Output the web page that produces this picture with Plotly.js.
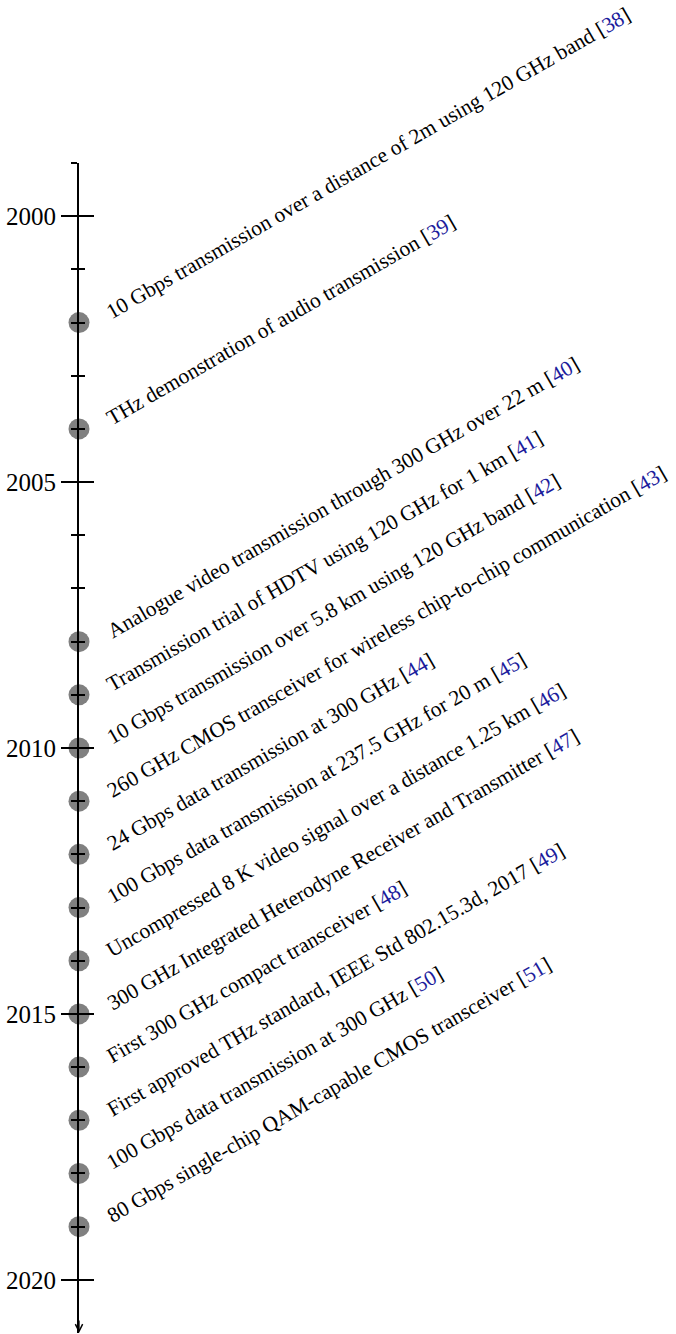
<!DOCTYPE html>
<html>
<head>
<meta charset="utf-8">
<script src="https://cdn.plot.ly/plotly-3.0.1.min.js"></script>
<style>
html,body{margin:0;padding:0;background:#fff;}
#chart{width:676px;height:1334px;}
</style>
</head>
<body>
<div id="chart"></div>
<script>
// ---- data ----
const years = [2002, 2004, 2008, 2009, 2010, 2011, 2012, 2013, 2014, 2015, 2016, 2017, 2018, 2019];
const events = [
  "10 Gbps transmission over a distance of 2m using 120 GHz band",
  "THz demonstration of audio transmission",
  "Analogue video transmission through 300 GHz over 22 m",
  "Transmission trial of HDTV using 120 GHz for 1 km",
  "10 Gbps transmission over 5.8 km using 120 GHz band",
  "260 GHz CMOS transceiver for wireless chip-to-chip communication",
  "24 Gbps data transmission at 300 GHz",
  "100 Gbps data transmission at 237.5 GHz for 20 m",
  "Uncompressed 8 K video signal over a distance 1.25 km",
  "300 GHz Integrated Heterodyne Receiver and Transmitter",
  "First 300 GHz compact transceiver",
  "First approved THz standard, IEEE Std 802.15.3d, 2017",
  "100 Gbps data transmission at 300 GHz",
  "80 Gbps single-chip QAM-capable CMOS transceiver"
];
const refs = ["38","39","40","41","42","43","44","45","46","47","48","49","50","51"];
const majorTicks = [2000, 2005, 2010, 2015, 2020];
const minorTicks = [1999, 2001, 2002, 2003, 2004, 2006, 2007, 2008, 2009, 2011, 2012, 2013, 2014, 2016, 2017, 2018, 2019];
const yearRange = [2021, 1999];

// ---- styles ----
const FONT = "Liberation Serif, Times New Roman, serif";
const CITE = "#1c1c9c";

const trace = {
  type: "scatter",
  mode: "markers",
  x: years.map(() => 0),
  y: years,
  marker: {size: 21, color: "#808080"},
  cliponaxis: false,
  hoverinfo: "skip",
  showlegend: false
};

const annotations = years.map((yr, i) => ({
  xref: "x", yref: "y", x: 0, y: yr,
  text: events[i] + ' [<span style="color:' + CITE + '">' + refs[i] + '</span>]',
  textangle: -30,
  xanchor: "left", yanchor: "bottom",
  xshift: 21, yshift: -4,
  showarrow: false,
  font: {family: FONT, size: 21.5, color: "#000"}
}));

// arrow head at the end of the axis
annotations.push({
  xref: "x", yref: "y", x: 0, y: yearRange[0],
  axref: "pixel", ayref: "pixel", ax: 0, ay: -14,
  text: "", showarrow: true, arrowhead: 5, arrowsize: 1.1, arrowwidth: 1.3,
  arrowcolor: "#000", standoff: 0
});

const axisCommon = {
  range: yearRange,
  tickmode: "array",
  tickvals: majorTicks,
  ticklen: 15,
  tickwidth: 2,
  tickcolor: "#000",
  showgrid: false,
  zeroline: false,
  fixedrange: true
};

const layout = {
  width: 676, height: 1334,
  margin: {l: 79, r: 0, t: 163, b: 1},
  paper_bgcolor: "#fff",
  plot_bgcolor: "rgba(0,0,0,0)",
  showlegend: false,
  xaxis: {range: [0, 1], visible: false, fixedrange: true},
  yaxis: Object.assign({}, axisCommon, {
    ticks: "outside",
    ticklen: 16,
    showline: true, linecolor: "#000", linewidth: 2,
    tickfont: {family: FONT, size: 25, color: "#000"},
    ticktext: majorTicks.map(String),
    minor: {tickmode: "array", tickvals: minorTicks, ticks: "outside", ticklen: 6, tickwidth: 2, tickcolor: "#000", showgrid: false}
  }),
  yaxis2: Object.assign({}, axisCommon, {
    overlaying: "y", side: "left", anchor: "x",
    ticks: "inside",
    showticklabels: false, showline: false,
    minor: {tickmode: "array", tickvals: minorTicks, ticks: "inside", ticklen: 6, tickwidth: 2, tickcolor: "#000", showgrid: false}
  }),
  annotations: annotations
};

// invisible trace to make yaxis2 render
const trace2 = {type: "scatter", mode: "markers", x: [], y: [], yaxis: "y2", xaxis: "x", hoverinfo: "skip", showlegend: false};

Plotly.newPlot("chart", [trace, trace2], layout, {staticPlot: true, displayModeBar: false});
</script>
</body>
</html>
